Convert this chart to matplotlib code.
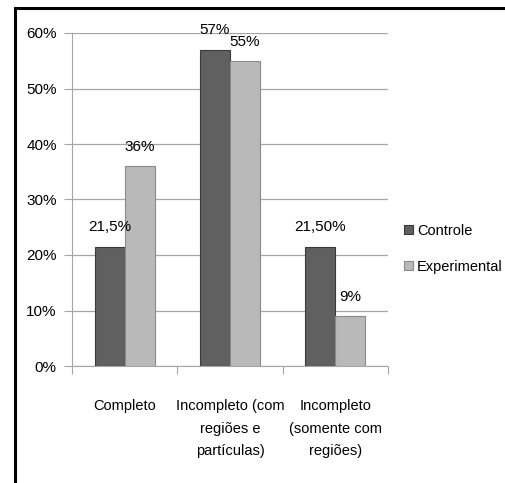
import numpy as np
import matplotlib
matplotlib.use("Agg")
import matplotlib.pyplot as plt
from matplotlib.patches import Rectangle
from matplotlib.ticker import FuncFormatter, FixedLocator

categorias = ["Completo", "Incompleto (com\nregiões e\npartículas)", "Incompleto\n(somente com\nregiões)"]
controle = [0.215, 0.57, 0.215]
experimental = [0.36, 0.55, 0.09]
rotulos_controle = ["21,5%", "57%", "21,50%"]
rotulos_experimental = ["36%", "55%", "9%"]

plt.rcParams['font.family'] = ['Liberation Sans', 'DejaVu Sans']

fig = plt.figure(figsize=(5.05, 4.83), dpi=100)
ax = fig.add_axes([72/505, 1 - 366/483, (388 - 72)/505, (366 - 33)/483])

# moldura preta do quadro
fig.patches.append(Rectangle((15/505, -0.1), 1.2, 1 - 8/483 + 0.1, transform=fig.transFigure,
                             fill=False, edgecolor='black', linewidth=2.2))

x = np.arange(len(categorias))
w = 0.285
b1 = ax.bar(x - w/2, controle, w, color='#606060', edgecolor='#3a3a3a', linewidth=0.8,
            label='Controle', zorder=3)
b2 = ax.bar(x + w/2, experimental, w, color='#b9b9b9', edgecolor='#8a8a8a', linewidth=0.8,
            label='Experimental', zorder=3)

for rect, txt in zip(b1, rotulos_controle):
    ax.text(rect.get_x() + rect.get_width()/2, rect.get_height() + 0.022, txt,
            ha='center', va='bottom', fontsize=11)
for rect, txt in zip(b2, rotulos_experimental):
    ax.text(rect.get_x() + rect.get_width()/2, rect.get_height() + 0.022, txt,
            ha='center', va='bottom', fontsize=11)

ax.set_xlim(-0.5, 2.5)
ax.set_ylim(0, 0.6)
ax.set_yticks(np.arange(0, 0.61, 0.1))
ax.yaxis.set_major_formatter(FuncFormatter(lambda v, p: f'{v*100:.0f}%'))
ax.grid(axis='y', color='#a6a6a6', linewidth=0.9, zorder=0)

ax.xaxis.set_major_locator(FixedLocator([-0.5, 0.5, 1.5, 2.5]))
ax.xaxis.set_major_formatter(FuncFormatter(lambda v, p: ''))
ax.xaxis.set_minor_locator(FixedLocator(x))
ax.set_xticklabels(categorias, minor=True, fontsize=10.5, linespacing=1.75)
ax.tick_params(axis='x', which='minor', length=0, pad=24)
ax.tick_params(axis='x', which='major', length=6, color='#a6a6a6')
ax.tick_params(axis='y', length=6, color='#a6a6a6', labelsize=11, pad=5)

for s in ['top', 'right']:
    ax.spines[s].set_visible(False)
for s in ['left', 'bottom']:
    ax.spines[s].set_color('#a6a6a6')

ax.legend(loc='upper left', bbox_to_anchor=(398/505, 1 - 218/483), bbox_transform=fig.transFigure,
          frameon=False, fontsize=10.5, handlelength=0.6, handleheight=0.6, handletextpad=0.3,
          labelspacing=1.5, borderaxespad=0)

plt.savefig("out.png", dpi=100)
